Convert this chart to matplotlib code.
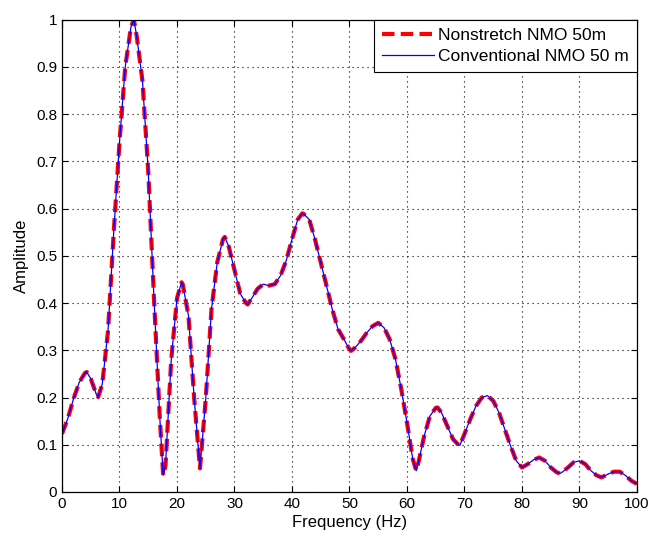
import matplotlib
matplotlib.use("Agg")
import matplotlib.pyplot as plt

# values
freq = [0, 1, 2, 3, 4, 4.3, 5, 6, 6.3, 7, 8, 9, 10, 11, 12, 12.5, 13, 14, 15, 16,
        17, 17.6, 18, 19, 20, 20.8, 21, 22, 23, 24, 25, 26, 27, 28, 28.3, 29, 30,
        31, 32, 32.3, 33, 34, 35, 36, 37, 38, 39, 40, 41, 41.8, 42, 43, 44, 45,
        46, 47, 48, 49, 50, 50.3, 51, 52, 53, 54, 55, 56, 57, 58, 59, 60, 61,
        61.6, 62, 63, 64, 65, 65.3, 66, 67, 68, 69, 69.2, 70, 71, 72, 73, 74,
        75, 76, 77, 78, 79, 80, 81, 82, 83, 84, 85, 86, 86.6, 87, 88, 89, 90,
        91, 92, 93, 93.8, 94, 95, 96, 97, 98, 99, 100]
nonstretch = [0.123, 0.155, 0.197, 0.232, 0.252, 0.254, 0.24, 0.206, 0.201, 0.228,
              0.34, 0.55, 0.74, 0.9, 0.985, 1.0, 0.965, 0.87, 0.68, 0.41,
              0.16, 0.035, 0.056, 0.28, 0.41, 0.444, 0.44, 0.373, 0.197, 0.05,
              0.197, 0.387, 0.486, 0.535, 0.54, 0.52, 0.47,
              0.42, 0.40, 0.397, 0.41, 0.43, 0.44, 0.437, 0.44, 0.458, 0.49,
              0.535, 0.577, 0.59, 0.589, 0.577, 0.535, 0.486,
              0.437, 0.387, 0.345, 0.324, 0.302, 0.299, 0.306, 0.32, 0.337, 0.351,
              0.358, 0.348, 0.323, 0.281, 0.218, 0.147, 0.07,
              0.045, 0.063, 0.119, 0.161, 0.178, 0.179, 0.168, 0.14, 0.112, 0.099,
              0.099, 0.123, 0.154, 0.182, 0.2, 0.204,
              0.193, 0.168, 0.133, 0.098, 0.066, 0.052, 0.059, 0.068, 0.073, 0.066,
              0.052, 0.042, 0.039, 0.042, 0.052, 0.063, 0.066,
              0.059, 0.045, 0.035, 0.031, 0.032, 0.038, 0.043, 0.043, 0.035, 0.024,
              0.017]
conventional = list(nonstretch)

plt.rcParams['font.family'] = ['Liberation Sans', 'DejaVu Sans']
plt.rcParams['font.size'] = 11

fig = plt.figure(figsize=(6.49, 5.41), dpi=100)
ax = fig.add_axes([0.0955, 0.0906, 0.886, 0.873])

ax.plot(freq, nonstretch, color='red', linestyle='--', linewidth=3,
        dashes=(3, 1.5), label='Nonstretch NMO 50m')
ax.plot(freq, conventional, color='blue', linewidth=0.9,
        label='Conventional NMO 50 m')

ax.set_xlim(0, 100)
ax.set_ylim(0, 1)
ax.set_xticks(range(0, 101, 10))
ax.set_yticks([i / 10 for i in range(11)])
ax.set_yticklabels(['0'] + [f'{i / 10:g}' for i in range(1, 10)] + ['1'])
ax.grid(True, color='black', linestyle=(0, (1, 3.5)), linewidth=0.8)
ax.tick_params(direction='in', top=True, right=True, length=4, width=0.8,
               labelsize=11)
for s in ax.spines.values():
    s.set_linewidth(0.9)

ax.set_xlabel('Frequency (Hz)', fontsize=12, labelpad=3)
ax.set_ylabel('Amplitude', fontsize=12, labelpad=5)

leg = ax.legend(loc='upper right', borderaxespad=0, fancybox=False,
                edgecolor='black', framealpha=1, handlelength=3.0,
                borderpad=0.45, labelspacing=0.35, handletextpad=0.25,
                fontsize=12.5)
leg.get_frame().set_linewidth(0.8)

fig.savefig('out.png', dpi=100)
